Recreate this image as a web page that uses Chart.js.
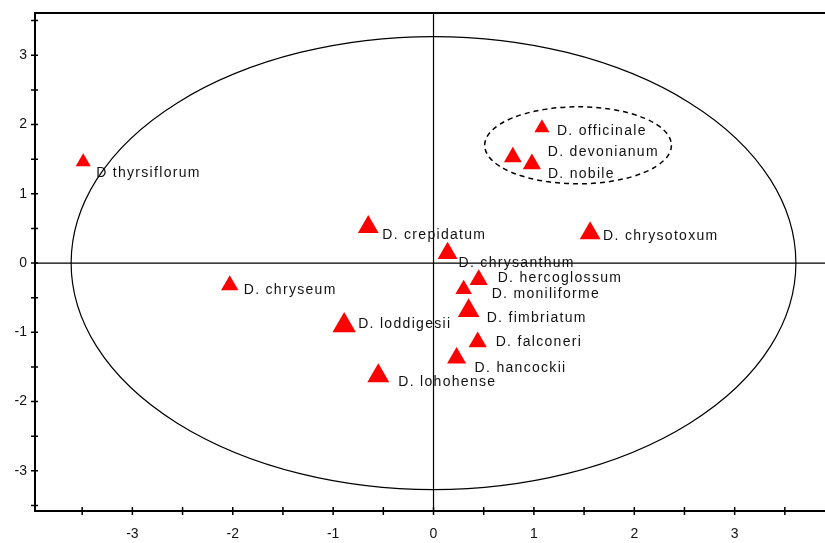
<!DOCTYPE html>
<html>
<head>
<meta charset="utf-8">
<script src="https://cdn.jsdelivr.net/npm/chart.js@4.4.1/dist/chart.umd.min.js"></script>
<style>
  html, body { margin: 0; padding: 0; background: #fff; }
  canvas { display: block; }
</style>
</head>
<body>
<canvas id="scores" width="825" height="543"></canvas>
<script>
// PCA scores (PC1 vs PC2) for the Dendrobium samples
const species = [
  "D thyrsiflorum", "D. crepidatum", "D. chryseum", "D. loddigesii", "D. lohohense",
  "D. officinale", "D. devonianum", "D. nobile", "D. chrysotoxum", "D. chrysanthum",
  "D. hercoglossum", "D. moniliforme", "D. fimbriatum", "D. falconeri", "D. hancockii"
];
const pc1 = [-3.49, -0.65, -2.03, -0.89, -0.55, 1.08, 0.79, 0.98, 1.56, 0.14, 0.45, 0.30, 0.35, 0.44, 0.23];
const pc2 = [1.46, 0.52, -0.32, -0.90, -1.63, 1.95, 1.53, 1.43, 0.43, 0.14, -0.24, -0.38, -0.69, -1.14, -1.37];

const xTickValues = [-3.5, -3, -2.5, -2, -1.5, -1, -0.5, 0, 0.5, 1, 1.5, 2, 2.5, 3, 3.5];
const yTickValues = [-3.5, -3, -2.5, -2, -1.5, -1, -0.5, 0, 0.5, 1, 1.5, 2, 2.5, 3, 3.5];

// Hotelling T2 ellipse and the highlighted group, in data units
const confidenceEllipse = { cx: 0, cy: 0, rx: 3.61, ry: 3.27 };
const groupEllipse = { cx: 1.44, cy: 1.70, rx: 0.93, ry: 0.556 };

// marker size and label placement (pixels), per sample
const markerRadius = [8.7, 12, 10, 13.5, 12.7, 8.7, 10.3, 10.5, 12, 11.5, 10.5, 9.5, 12.5, 10.5, 11];
const labelShift = [
  [13, 11], [14, 8], [14, 5], [14, -1], [20, 6],
  [15, 3], [35, -5], [16, 10], [13, 3], [11, 10],
  [19, -2], [28, 5], [18, 7], [18, 0], [18, 10]
];

const FONT = '"Liberation Sans", Arial, sans-serif';

const frame = {
  id: "frame",
  beforeDatasetsDraw(chart) {
    const { ctx, chartArea: a, scales: { x, y } } = chart;
    const px = (v) => x.getPixelForValue(v);
    const py = (v) => y.getPixelForValue(v);
    ctx.save();
    ctx.strokeStyle = "#000";

    // zero lines
    ctx.lineWidth = 1.2;
    ctx.beginPath();
    ctx.moveTo(a.left, py(0)); ctx.lineTo(a.right, py(0));
    ctx.moveTo(px(0), a.top); ctx.lineTo(px(0), a.bottom);
    ctx.stroke();

    // confidence ellipse
    ctx.lineWidth = 1.2;
    ctx.beginPath();
    ctx.ellipse(px(confidenceEllipse.cx), py(confidenceEllipse.cy),
      px(confidenceEllipse.rx) - px(0), py(0) - py(confidenceEllipse.ry), 0, 0, Math.PI * 2);
    ctx.stroke();

    // dashed group ellipse
    ctx.lineWidth = 1.5;
    ctx.setLineDash([5, 4]);
    ctx.beginPath();
    ctx.ellipse(px(groupEllipse.cx), py(groupEllipse.cy),
      px(groupEllipse.cx + groupEllipse.rx) - px(groupEllipse.cx),
      py(groupEllipse.cy) - py(groupEllipse.cy + groupEllipse.ry), 0, 0, Math.PI * 2);
    ctx.stroke();
    ctx.setLineDash([]);

    // axes box (left, bottom, top)
    ctx.lineWidth = 2;
    ctx.beginPath();
    ctx.moveTo(a.right, a.top); ctx.lineTo(a.left, a.top);
    ctx.lineTo(a.left, a.bottom); ctx.lineTo(a.right, a.bottom);
    ctx.stroke();

    // tick marks crossing the axes
    ctx.lineWidth = 1.5;
    ctx.beginPath();
    x.ticks.forEach((t) => {
      const p = px(t.value);
      ctx.moveTo(p, a.bottom - 4); ctx.lineTo(p, a.bottom + 4);
    });
    y.ticks.forEach((t) => {
      const p = py(t.value);
      ctx.moveTo(a.left - 4, p); ctx.lineTo(a.left + 3, p);
    });
    ctx.stroke();
    ctx.restore();
  },
  afterDatasetsDraw(chart) {
    const { ctx, scales: { x, y } } = chart;
    ctx.save();
    ctx.font = "14px " + FONT;
    ctx.letterSpacing = "1.3px";
    ctx.fillStyle = "#111";
    ctx.textAlign = "left";
    ctx.textBaseline = "middle";
    species.forEach((name, i) => {
      ctx.fillText(name, x.getPixelForValue(pc1[i]) + labelShift[i][0],
        y.getPixelForValue(pc2[i]) + labelShift[i][1]);
    });
    ctx.restore();
  }
};

new Chart(document.getElementById("scores"), {
  type: "scatter",
  data: {
    datasets: [{
      data: pc1.map((v, i) => ({ x: v, y: pc2[i] })),
      pointStyle: "triangle",
      pointRadius: markerRadius,
      pointHoverRadius: markerRadius,
      pointBackgroundColor: "#ff0000",
      pointBorderColor: "#ff0000",
      pointBorderWidth: 0
    }]
  },
  options: {
    responsive: false,
    animation: false,
    layout: { autoPadding: false, padding: { top: 13, right: 0, left: 0, bottom: 0 } },
    plugins: { legend: { display: false }, tooltip: { enabled: false } },
    scales: {
      x: {
        type: "linear",
        min: -3.97,
        max: 3.9,
        afterBuildTicks: (s) => { s.ticks = xTickValues.map((v) => ({ value: v })); },
        afterFit: (s) => { s.height = 32; s.paddingLeft = 0; s.paddingRight = 0; },
        grid: { display: false, drawTicks: false },
        border: { display: false },
        ticks: {
          autoSkip: false,
          maxRotation: 0,
          padding: 15,
          color: "#111",
          font: { family: FONT, size: 14 },
          callback: (v) => (Number.isInteger(v) ? String(v) : "")
        }
      },
      y: {
        type: "linear",
        min: -3.58,
        max: 3.61,
        afterBuildTicks: (s) => { s.ticks = yTickValues.map((v) => ({ value: v })); },
        afterFit: (s) => { s.width = 35; s.paddingTop = 0; s.paddingBottom = 0; },
        grid: { display: false, drawTicks: false },
        border: { display: false },
        ticks: {
          autoSkip: false,
          padding: 8,
          color: "#111",
          font: { family: FONT, size: 14 },
          callback: (v) => (Number.isInteger(v) ? String(v) : "")
        }
      }
    }
  },
  plugins: [frame]
});
</script>
</body>
</html>
